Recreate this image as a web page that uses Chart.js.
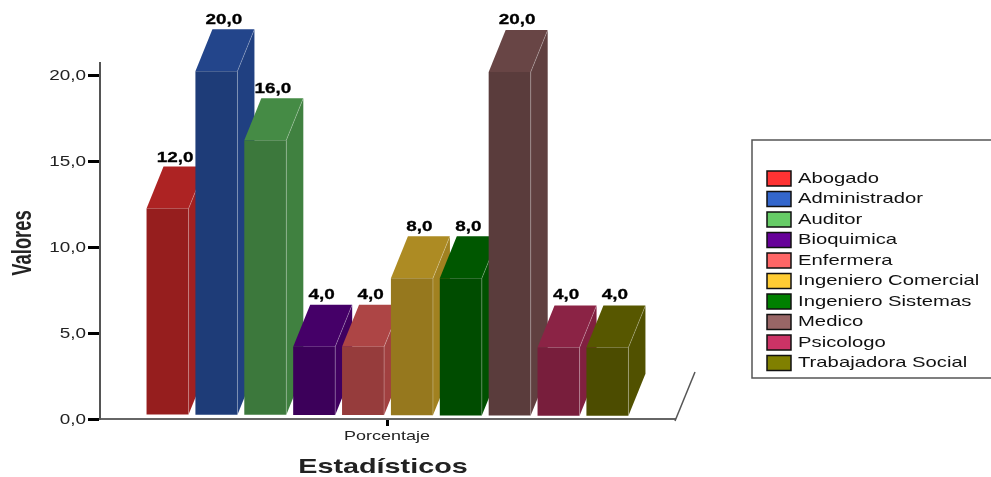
<!DOCTYPE html>
<html lang="es">
<head>
    <meta charset="UTF-8">
    <title>Estadísticos</title>
    <script src="https://cdn.jsdelivr.net/npm/chart.js"></script>
    <style>
        html, body { margin: 0; padding: 0; background: #fff; overflow: hidden; }
        canvas { display: block; }
    </style>
</head>
<body>
    <canvas id="grafico" width="991" height="477"></canvas>

    <script>
        // Datos
        const categorias = ['Porcentaje'];
        const profesiones = ['Abogado', 'Administrador', 'Auditor', 'Bioquimica', 'Enfermera',
            'Ingeniero Comercial', 'Ingeniero Sistemas', 'Medico', 'Psicologo', 'Trabajadora Social'];
        const valores = [12, 20, 16, 4, 4, 8, 8, 20, 4, 4];
        const etiquetasValor = ['12,0', '20,0', '16,0', '4,0', '4,0', '8,0', '8,0', '20,0', '4,0', '4,0'];
        const etiquetasEjeY = ['0,0', '5,0', '10,0', '15,0', '20,0'];
        const colores = ['#ff3333', '#3366cc', '#66cc66', '#660099', '#ff6666',
            '#ffcc33', '#008000', '#996666', '#cc3366', '#808000'];

        const FUENTE = '"Liberation Sans", Arial, sans-serif';
        const FONDO_X = 17, FONDO_Y = 42; // profundidad de las barras 3D

        // Oscurece un color #rrggbb para cada cara de la barra
        function sombra(hex, f) {
            const n = parseInt(hex.slice(1), 16);
            const c = [n >> 16, (n >> 8) & 255, n & 255].map(v => Math.round(v * f));
            return `rgb(${c[0]},${c[1]},${c[2]})`;
        }

        // Texto ensanchado horizontalmente (sx > 1) o comprimido (sx < 1)
        function texto(ctx, str, x, y, font, color, sx, align, grosor) {
            ctx.save();
            ctx.translate(x, y);
            ctx.scale(sx, 1);
            ctx.font = font;
            ctx.fillStyle = color;
            ctx.textAlign = align || 'center';
            ctx.textBaseline = 'middle';
            ctx.fillText(str, 0, 0);
            if (grosor) {
                ctx.strokeStyle = color;
                ctx.lineWidth = grosor;
                ctx.strokeText(str, 0, 0);
            }
            ctx.restore();
        }

        function cara(ctx, puntos, color) {
            ctx.beginPath();
            puntos.forEach((p, i) => i ? ctx.lineTo(p[0], p[1]) : ctx.moveTo(p[0], p[1]));
            ctx.closePath();
            ctx.fillStyle = color;
            ctx.fill();
        }

        const barras3d = {
            id: 'barras3d',
            // las barras se pintan todas juntas, de izquierda a derecha
            beforeDatasetDraw() { return false; },
            afterDatasetsDraw(chart) {
                const ctx = chart.ctx;
                valores.forEach((v, i) => {
                    const el = chart.getDatasetMeta(i).data[0];
                    const sube = 4 - i * 0.15; // la base queda algo por encima del eje
                    const izq = el.x - el.width / 2, der = el.x + el.width / 2;

                    ctx.save();
                    ctx.translate(0, -sube);
                    const arriba = el.y, abajo = el.base;
                    cara(ctx, [[der, arriba], [der + FONDO_X, arriba - FONDO_Y],
                        [der + FONDO_X, abajo - FONDO_Y], [der, abajo]], sombra(colores[i], 0.63));
                    cara(ctx, [[izq, arriba], [izq + FONDO_X, arriba - FONDO_Y],
                        [der + FONDO_X, arriba - FONDO_Y], [der, arriba]], sombra(colores[i], 0.68));
                    el.draw(ctx);

                    // aristas claras
                    ctx.strokeStyle = 'rgba(255,255,255,0.25)';
                    ctx.lineWidth = 1;
                    ctx.beginPath();
                    ctx.moveTo(der, abajo);
                    ctx.lineTo(der, arriba);
                    ctx.lineTo(der + FONDO_X, arriba - FONDO_Y);
                    ctx.stroke();
                    ctx.restore();
                });
                // las etiquetas van encima de todas las barras
                valores.forEach((v, i) => {
                    const el = chart.getDatasetMeta(i).data[0];
                    texto(ctx, etiquetasValor[i], el.x + FONDO_X / 2 - 1, el.y - 55,
                        'bold 15px ' + FUENTE, '#000', 1.26, 'center', 0.3);
                });
            },
            afterDraw(chart) {
                const ctx = chart.ctx;
                const area = chart.chartArea;
                const x = chart.scales.x, y = chart.scales.y;

                // lateral del suelo
                ctx.strokeStyle = '#555';
                ctx.lineWidth = 1.5;
                ctx.beginPath();
                ctx.moveTo(area.right, area.bottom + 2);
                ctx.lineTo(area.right + 20, area.bottom - 47);
                ctx.stroke();

                // rótulos de ejes
                y.ticks.forEach((t, i) => {
                    texto(ctx, etiquetasEjeY[i], 86, y.getPixelForTick(i) + 1, '14px ' + FUENTE, '#222', 1.35, 'right');
                });
                texto(ctx, categorias[0], x.getPixelForTick(0) - 0.5, area.bottom + 17, '13px ' + FUENTE, '#222', 1.38);
                texto(ctx, 'Estadísticos', 383, 467, 'bold 21px ' + FUENTE, '#222', 1.37);

                ctx.save();
                ctx.translate(24, 243);
                ctx.rotate(-Math.PI / 2);
                texto(ctx, 'Valores', 0, 0, 'bold 27px ' + FUENTE, '#222', 0.68);
                ctx.restore();

                // leyenda
                ctx.strokeStyle = '#555';
                ctx.lineWidth = 1.5;
                ctx.strokeRect(752, 140, 260, 238);
                profesiones.forEach((p, i) => {
                    const yc = 178.5 + i * 20.5;
                    ctx.fillStyle = colores[i];
                    ctx.fillRect(767, yc - 7.5, 24, 15);
                    ctx.strokeStyle = '#111';
                    ctx.lineWidth = 1.5;
                    ctx.strokeRect(767, yc - 7.5, 24, 15);
                    texto(ctx, p, 798, yc, '15px ' + FUENTE, '#111', 1.35, 'left');
                });
            }
        };

        new Chart(document.getElementById('grafico'), {
            type: 'bar',
            data: {
                labels: categorias,
                datasets: profesiones.map((p, i) => ({
                    label: p,
                    data: [valores[i]],
                    backgroundColor: sombra(colores[i], 0.59),
                    borderWidth: 0,
                    categoryPercentage: 0.85,
                    barPercentage: 0.86
                }))
            },
            options: {
                responsive: false,
                animation: false,
                layout: { padding: { top: 63, right: 316, left: 0, bottom: 0 } },
                plugins: { legend: { display: false }, tooltip: { enabled: false } },
                scales: {
                    x: {
                        afterFit: s => { s.height = 58; },
                        ticks: { display: false },
                        border: { color: '#666', width: 2 },
                        grid: { offset: false, drawOnChartArea: false, drawTicks: true, tickLength: 7, tickColor: '#000', tickWidth: 3 }
                    },
                    y: {
                        min: 0,
                        max: 20.7,
                        afterFit: s => { s.width = 100; },
                        ticks: { display: false, stepSize: 5, includeBounds: false },
                        border: { color: '#555', width: 2 },
                        grid: { drawOnChartArea: false, drawTicks: true, tickLength: 12, tickColor: '#000', tickWidth: 3 }
                    }
                }
            },
            plugins: [barras3d]
        });
    </script>
</body>
</html>
